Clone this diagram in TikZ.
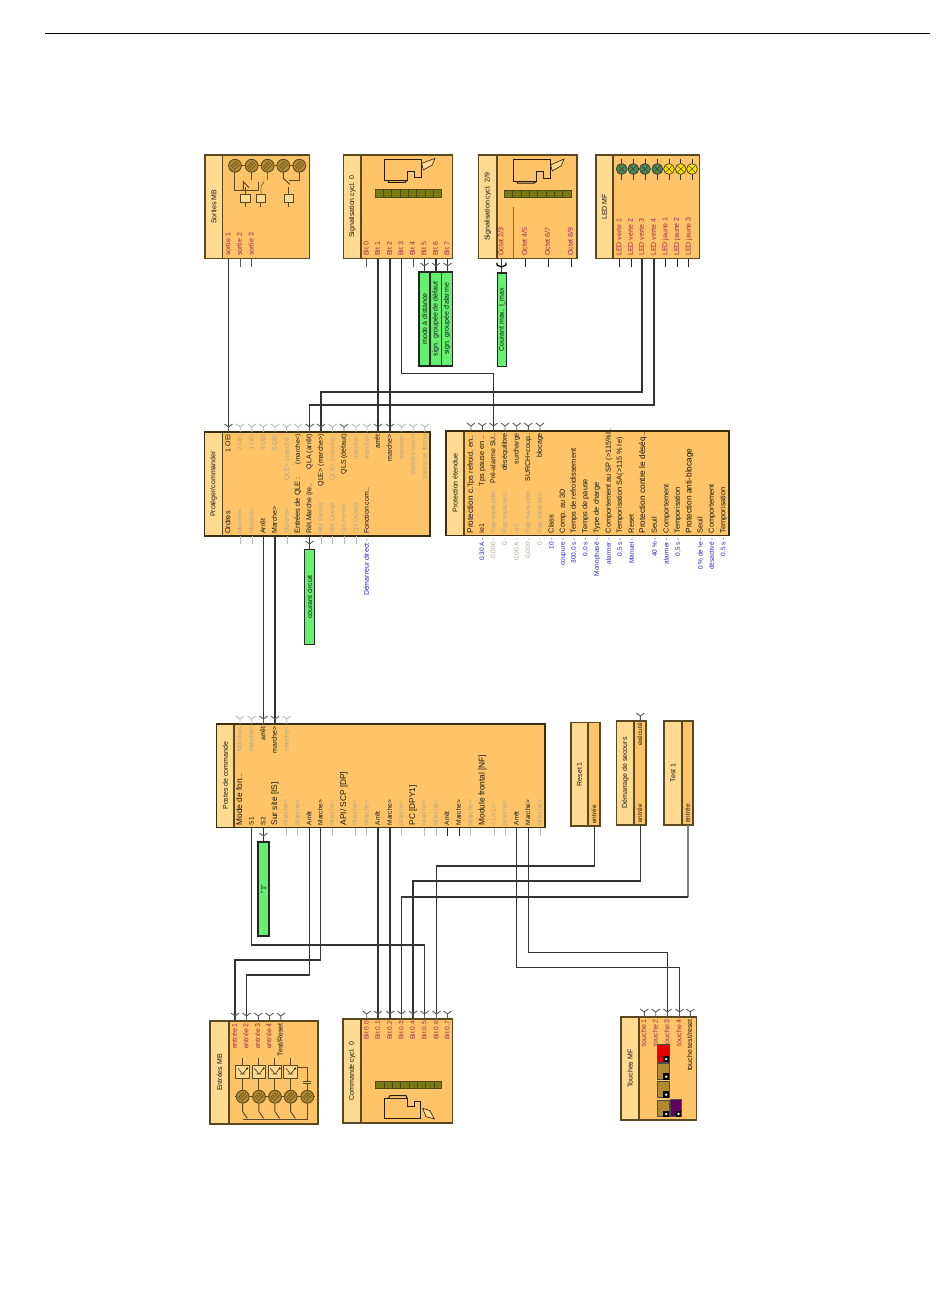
\documentclass[tikz,border=0pt]{standalone}
\usepackage{fontspec}
\setmainfont{Liberation Sans}
\definecolor{bodyc}{HTML}{FFC468}
\definecolor{headc}{HTML}{FFDA90}
\definecolor{edgec}{HTML}{5A4820}
\definecolor{darkedge}{HTML}{3A2E10}
\definecolor{greenc}{HTML}{66F070}
\definecolor{wirec}{HTML}{333333}
\definecolor{mr}{HTML}{A0204C}
\definecolor{bl}{HTML}{2222C4}
\definecolor{gr}{HTML}{B0A488}
\definecolor{bk}{HTML}{151515}
\definecolor{termc}{HTML}{B08A30}
\definecolor{oliv}{HTML}{7A7A10}
\definecolor{olivd}{HTML}{4A4A10}
\definecolor{ledg}{HTML}{4A8A50}
\newcommand\smf{\fontsize{6.5}{7}\selectfont}
\newcommand\lf{\fontsize{7}{8}\selectfont}
\newcommand\mf{\fontsize{7.4}{8}\selectfont}
\newcommand\hf{\fontsize{8.3}{9}\selectfont}
\newcounter{lb}
% anchor, colour, x, y, text
\newcommand\labs[5]{\stepcounter{lb}\node[lbl,anchor=#1,text=#2,font=\smf] (lab\thelb) at (#3,#4) {#5};}
\newcommand\lab[5]{\stepcounter{lb}\node[lbl,anchor=#1,text=#2,font=\lf] (lab\thelb) at (#3,#4) {#5};}
\newcommand\labm[5]{\stepcounter{lb}\node[lbl,anchor=#1,text=#2,font=\mf] (lab\thelb) at (#3,#4) {#5};}
\newcommand\labh[5]{\stepcounter{lb}\node[lblh,anchor=#1,text=#2,font=\hf] (lab\thelb) at (#3,#4) {#5};}
\newcommand\blk[7]{%
 \pgfmathsetmacro\bw{#4-#2}\pgfmathsetmacro\bh{#6-#5}\pgfmathsetmacro\hw{#3-#2}
 \node[bodybox,minimum width=\bw pt,minimum height=\bh pt] (#1) at (#2,#5) {};
 \node[headbox,minimum width=\hw pt,minimum height=\bh pt] (#1-h) at (#2,#5) {};
 \node[blktitle] (#1-t) at (#1-h.center) {#7};
}
\newcommand\grn[6]{%
 \pgfmathsetmacro\bw{#3-#2}\pgfmathsetmacro\bh{#5-#4}
 \node[greenbox,minimum width=\bw pt,minimum height=\bh pt] (#1) at (#2,#4) {};
 \node[blktitle] (#1-t) at (#1.center) {#6};
}
\newcommand\fork[3]{\draw[#3,line width=.9pt] (#1,#2)--++(0,-5) ++(-4,-3)--++(4,3)--++(4,-3);}
\newcommand\vmark[3]{\draw[#3,line width=.9pt] (#1-4,#2-3)--(#1,#2)--(#1+4,#2-3);}
\newcommand\stub[3]{\draw[#3,line width=.9pt] (#1,#2)--++(0,8);}
\newcommand\term[2]{\filldraw[fill=termc,draw=edgec,line width=.9pt] (#1,#2) circle (6.4);
 \draw[edgec,line width=.5pt] (#1-3.5,#2+3)--(#1+3,#2-3.5) (#1-4.5,#2+1)--(#1+1,#2-4.5) (#1-1.5,#2+4.5)--(#1+4.5,#2-1.5);}
\tikzset{
 lbl/.style={rotate=90,inner sep=0pt,text height=5pt,text depth=1.4pt},
 lblh/.style={rotate=90,inner sep=0pt,text height=6pt,text depth=1.6pt},
 bodybox/.style={draw=edgec,line width=1.2pt,fill=bodyc,anchor=north west,inner sep=0pt,outer sep=0pt},
 headbox/.style={draw=edgec,line width=1.2pt,fill=headc,anchor=north west,inner sep=0pt,outer sep=0pt},
 greenbox/.style={draw=black!85,line width=1.2pt,fill=greenc,anchor=north west,inner sep=0pt,outer sep=0pt},
 blktitle/.style={rotate=90,inner sep=0pt,font=\lf,text=bk},
 wire/.style={wirec,line width=1.3pt},
 lightp/.style={gray!55},
 midp/.style={black!65},
 darkp/.style={black!85},
 icon/.style={edgec,line width=1pt},
 icona/.style={black!80!brown,line width=1pt},
}
\begin{document}
\begin{tikzpicture}[x=1pt,y=-1pt]
\useasboundingbox (0,0) rectangle (950,1299);
\draw[black,line width=.8pt] (45,33)--(930,33);

% ---------- blocks
\blk{sortiesMB}{205}{222.5}{309.5}{155}{258.5}{Sorties MB}
\blk{sig0}{343.5}{361}{452.5}{155}{258.5}{Signalisation cycl. 0}
\blk{sig29}{478.5}{497}{577}{155}{258.5}{Signalisation cycl. 2/9}
\blk{ledmf}{596}{613}{699.5}{155}{258.5}{LED MF}
\blk{prot}{204.5}{222.5}{430}{432}{536}{Protéger/commander}
\blk{ext}{446}{464}{729}{431}{535.5}{Protection étendue}
\blk{postes}{216.5}{234}{545}{724}{827.5}{Postes de commande}
\blk{reset}{571}{588}{600}{722.5}{826}{Reset 1}
\blk{dem}{616.5}{634}{646}{721}{825}{Démarrage de secours}
\blk{test}{664}{682}{693}{721}{825}{Test 1}
\blk{entMB}{210}{229}{318}{1021}{1124}{Entrées MB}
\blk{cmd}{343}{361}{452.5}{1019}{1123}{Commande cycl. 0}
\blk{tou}{621}{639}{696.5}{1017}{1120}{Touches MF}
\draw[darkedge,line width=1.4pt] (prot.north west) rectangle (prot.south east) (ext.north west) rectangle (ext.south east) (postes.north west) rectangle (postes.south east);

% ---------- green value blocks
\grn{gmode}{419}{430}{272}{366}{mode à distance}
\grn{gdef}{430}{441.5}{272}{366}{sign. groupée de défaut}
\grn{galm}{441.5}{452.5}{272}{366}{sign. groupée d'alarme}
\grn{gimax}{497.5}{506.5}{273}{366.5}{Courant max. I\_max}
\grn{gcirc}{304.5}{314.5}{549.5}{644.5}{courant circuit}
\grn{gun}{258}{269}{842}{936}{"1"}

% ---------- ports (named ends of the connectors)
\coordinate (s1) at (228.5,258.5);
\coordinate (b1) at (378,258.5); \coordinate (b2) at (390,258.5); \coordinate (b3) at (401.5,258.5);
\coordinate (b5) at (424.5,258.5); \coordinate (b6) at (436,258.5); \coordinate (b7) at (447.5,258.5);
\coordinate (oct2) at (501.5,258.5);
\coordinate (v3) at (642,258.5); \coordinate (v4) at (654,258.5);
\coordinate (poei) at (228.5,432); \coordinate (pqla) at (309.5,432); \coordinate (pqle) at (321,432);
\coordinate (parr) at (378,432); \coordinate (pmar) at (390,432);
\coordinate (pbarr) at (263.5,536); \coordinate (pbmar) at (275,536); \coordinate (pbret) at (309.5,536);
\coordinate (epre) at (493.5,431);
\coordinate (ptarr) at (263.5,724); \coordinate (ptmar) at (275,724);
\coordinate (ps1) at (251.7,827.5); \coordinate (ps2) at (263.5,827.5);
\coordinate (pa1) at (309.5,827.5); \coordinate (pm1) at (320.8,827.5);
\coordinate (pa2) at (378,827.5); \coordinate (pm2) at (390,827.5);
\coordinate (pa3) at (516.7,827.5); \coordinate (pm3) at (528.3,827.5);
\coordinate (rin) at (594.5,826); \coordinate (din) at (640.3,825); \coordinate (tin) at (688,825);
\coordinate (e1) at (235,1021); \coordinate (e2) at (246.5,1021);
\coordinate (c1) at (378,1019); \coordinate (c2) at (390,1019); \coordinate (c3) at (401.5,1019);
\coordinate (c4) at (413,1019); \coordinate (c5) at (424.5,1019); \coordinate (c6) at (436.5,1019);
\coordinate (t3) at (667.5,1017); \coordinate (t4) at (679.5,1017);

% ---------- connectors
\draw[wire] (s1)--(poei);
\draw[wire] (b1)--(parr);
\draw[wire] (b2)--(pmar);
\draw[wire] (b3)--(b3|-0,373.5)--(epre|-0,373.5)--(epre);
\draw[wire] (v3)--(v3|-0,392)--(pqle|-0,392)--(pqle);
\draw[wire] (v4)--(v4|-0,405)--(pqla|-0,405)--(pqla);
\draw[wire] (pbarr)--(ptarr);
\draw[wire] (pbmar)--(ptmar);
\draw[wire] (pa2)--(c1);
\draw[wire] (pm2)--(c2);
\draw[wire] (ps1)--(ps1|-0,945)--(c5|-0,945)--(c5);
\draw[wire] (pa1)--(pa1|-0,975)--(e2|-0,975)--(e2);
\draw[wire] (pm1)--(pm1|-0,960)--(e1|-0,960)--(e1);
\draw[wire] (pa3)--(pa3|-0,967.5)--(t4|-0,967.5)--(t4);
\draw[wire] (pm3)--(pm3|-0,952.5)--(t3|-0,952.5)--(t3);
\draw[wire] (rin)--(rin|-0,866)--(c6|-0,866)--(c6);
\draw[wire] (din)--(din|-0,881)--(c4|-0,881)--(c4);
\draw[gray,line width=1.3pt] (tin)--(tin|-0,897);
\draw[wire] (tin|-0,897)--(c3|-0,897)--(c3);
\draw[wire] (b5)--(gmode.north-|b5);
\draw[wire] (b6)--(gdef.north-|b6);
\draw[wire] (b7)--(galm.north-|b7);
\draw[wire,line width=1.5pt] (oct2)--(gimax.north-|oct2);
\draw[wire] (pbret)--(gcirc.north-|pbret);
\draw[wire] (ps2)--(gun.north-|ps2);
\vmark{424.5}{266}{midp}\vmark{436}{266}{midp}\vmark{447.5}{266}{midp}
\vmark{309.5}{544}{midp}\vmark{263.5}{836}{midp}
\draw[black,line width=1.3pt] (497,262.5)--(497,265)--(501.5,267)--(506,265)--(506,262.5);

% ---------- forks and stubs
\foreach \x in {240.2,251.8,263.4,275,286.6,298} {\fork{\x}{432}{lightp}}
\foreach \x in {332.5,356,367,401.7,413.2,424.8} {\fork{\x}{432}{lightp}}
\foreach \x in {228.5,309.5,321,344,378,390} {\fork{\x}{432}{midp}}
\foreach \x in {471,482.4,493.5,505,516.7,528.3,540} {\fork{\x}{431}{midp}}
\foreach \x in {240,251.7,286.7} {\fork{\x}{724}{lightp}}
\foreach \x in {263.5,275} {\fork{\x}{724}{midp}}
\fork{640.3}{721}{midp}
\foreach \x in {235,246.5,258.3,269.5,280.8} {\fork{\x}{1021}{midp}}
\foreach \x in {366.7,378,390,401.5,413,424.5,436.5,447.5} {\fork{\x}{1019}{midp}}
\foreach \x in {644.3,655.7,667.5,679.5,690.3} {\fork{\x}{1017}{midp}}
\foreach \x in {240,251.7} {\stub{\x}{258.5}{midp}}
\foreach \x in {366.7,413} {\stub{\x}{258.5}{midp}}
\foreach \x in {525,548,571,619.5,631,665.5,677,688.7} {\stub{\x}{258.5}{darkp}}
\foreach \x in {240,252,287,321,332.5,344,356} {\stub{\x}{536}{lightp}}
\foreach \x in {286,297.7,332.3,355,366.7,401.3,424.3,436,470.7,494,505,540} {\stub{\x}{827.5}{lightp}}
\foreach \x in {447.3,459} {\stub{\x}{827.5}{darkp}}

% ---------- labels of Sorties, Signalisation, LED
\foreach \x/\t in {228.5/sortie 1,240/sortie 2,251.7/sortie 3} {\lab{west}{mr}{\x}{256}{\t}}
\foreach \x/\t in {366.7/Bit 0,378/Bit 1,390/Bit 2,401.5/Bit 3,413/Bit 4,424.5/Bit 5,436/Bit 6,447.5/Bit 7} {\lab{west}{mr}{\x}{256}{\t}}
\foreach \x/\t in {501.5/{Octet 2/3},525/{Octet 4/5},548/{Octet 6/7},571/{Octet 8/9}} {\lab{west}{mr}{\x}{256}{\t}}
\foreach \x/\t in {619.5/LED verte 1,631/LED verte 2,642/LED verte 3,654/LED verte 4,665.5/LED jaune 1,677/LED jaune 2,688.7/LED jaune 3} {\lab{west}{mr}{\x}{256}{\t}}

% ---------- labels of Protéger/commander
\labm{west}{bk}{228.5}{534}{Ordres}
\foreach \x/\t in {240/Marche<,252/Marche<,287/Marche>,321/Rét Fermé,332.5/Rét Ouvert,344/Cpl Fermé,356/Cpl Ouvert} {\labs{west}{gr}{\x}{534}{\t}}
\foreach \x/\t in {263.5/Arrêt,275/Marche>} {\lab{west}{bk}{\x}{534}{\t}}
\labm{west}{bk}{298}{534}{Entrées de QLE :}
\lab{west}{bk}{309.5}{534}{Rét.Marche (re..}
\lab{west}{bk}{367}{534}{Fonction com..}
\lab{east}{bl}{367}{539}{Démarreur direct -}
\foreach \x/\t in {228.5/1 OEI,344/QLS (défaut),378/arrêt,390/marche>} {\lab{east}{bk}{\x}{434}{\t}}
\foreach \x/\t in {309.5/QLA (arrêt),321/QLE> (marche>)} {\lab{east}{bk}{\x}{434}{\t}}
\labs{east}{bk}{298}{434}{(marche<)}
\foreach \x/\t in {240/2 OEI,252/3 OEI,263.5/4 OEI,275/5 OEI,287/QLE< (marche..,332.5/QLE> (marche..,356/marche<,367/marche<,402/marche>,413/Vanne s'ouvre,425/Vanne se ferme} {\labs{east}{gr}{\x}{434}{\t}}

% ---------- labels of Protection étendue
\labh{west}{bk}{471}{533.5}{Protection c.}
\labm{east}{bk}{471}{435}{Tps refroid. en..}
\labm{east}{bk}{482.4}{435}{Tps pause en ..}
\lab{east}{bk}{493.5}{433}{Pré-alarme SU..}
\foreach \x/\t in {505/déséquilibre,516.7/surcharge,528.3/SURCH+coup..,540/blocage} {\lab{east}{bk}{\x}{433}{\t}}
\lab{west}{bk}{482.4}{533.5}{Ie1}
\foreach \x/\t in {493.5/Rap.trans.prim.,505/Rap.trans.sec..,516.7/Ie2,528.3/Rap.trans.prim.,540/Rap.trans.sec..} {\labs{west}{gr}{\x}{533.5}{\t}}
\foreach \x/\t in {551.7/Class,563/Comp. au 3D,574/Temps de refroidissement,585.5/Temps de pause,597/Type de charge,632/Reset,655/Seuil,666.7/Comportement,678/Temporisation,700.7/Seuil,712/Comportement,723.5/Temporisation} {\labm{west}{bk}{\x}{533.5}{\t}}
\labm{west}{bk}{620}{533.5}{Temporisation SA(>115 \% Ie)}
\labm{west}{bk}{609}{533.5}{Comportement au SP (>115\%I..}
\labh{west}{bk}{643}{533.5}{Protection contre le déséq..}
\labh{west}{bk}{689.5}{533.5}{Protection anti-blocage}
\foreach \x/\t in {482.4/{0,30 A -},551.7/10 -,563/coupure -,574/{300,0 s -},585.5/{0,0 s -},597/Monophasé -,609/alarmer -,620/{0,5 s -},632/Manuel -,655/40 \% -,666.7/alarmer -,678/{0,5 s -},700.7/0 \% de Ie -,712/désactivé -,723.5/{0,5 s -}} {\labs{east}{bl}{\x}{538}{\t}}
\foreach \x/\t in {493.5/{0,000 -},505/0 -,516.7/{0,00 A -},528.3/{0,000 -},540/0 -} {\labs{east}{gr}{\x}{538}{\t}}

% ---------- labels of Postes de commande
\foreach \x/\t in {240/Marche<,251.7/marche<,286.7/marche<} {\labs{east}{gr}{\x}{726}{\t}}
\foreach \x/\t in {263.5/arrêt,275/marche>} {\lab{east}{bk}{\x}{726}{\t}}
\foreach \x/\t in {240/Mode de fon..,275/Sur site [IS],344/{API/ SCP [DP]},413/PC [DPY1],482.3/Module frontal [NF]} {\labh{west}{bk}{\x}{825.5}{\t}}
\foreach \x/\t in {251.7/S1,263.5/S2,309.5/Arrêt,320.8/Marche>,378/Arrêt,390/Marche>,447.3/Arrêt,459/Marche>,516.7/Arrêt,528.3/Marche>} {\labs{west}{bk}{\x}{825.5}{\t}}
\foreach \x/\t in {286/Marche<,297.7/Marche<,332.3/Marche<,355/Marche<,366.7/Marche<,401.3/Marche<,424.3/Marche<,436/Marche<,470.7/Marche<,494/{<1/<1>},505/Marche<,540/Marche<} {\labs{west}{gr}{\x}{825.5}{\t}}
\labs{west}{bk}{594.5}{824}{entrée}
\labs{west}{bk}{640.3}{823}{entrée}
\labs{west}{bk}{688}{823}{entrée}
\labs{east}{bk}{640.3}{723}{exécuté}

% ---------- labels of the bottom row
\foreach \x/\t in {235/entrée 1,246.5/entrée 2,258.3/entrée 3,269.5/entrée 4} {\lab{east}{mr}{\x}{1023}{\t}}
\lab{east}{bk}{280.8}{1023}{Test/Reset}
\foreach \x/\n in {366.7/0,378/1,390/2,401.5/3,413/4,424.5/5,436.5/6,447.5/7} {\labs{east}{mr}{\x}{1021}{Bit 0.\n}}
\foreach \x/\t in {644.3/touche 1,655.7/touche 2,667.5/touche 3,679.5/touche 4} {\lab{east}{mr}{\x}{1019}{\t}}
\lab{east}{bk}{690.3}{1019}{touche test/reset}

% ---------- icon Sorties MB
\begin{scope}[shift={(195,145)},x=.3333pt,y=-.3333pt]
 \draw[icon] (100,62)--(330,62);
 \draw[icon] (120,80)--(120,135)--(190,135)--(190,110);
 \draw[icon] (170,80)--(170,105);
 \draw[icon] (145,135)--(145,110)--(162,128);
 \draw[oliv,line width=.9pt] (218,80)--(218,105);
 \draw[oliv,line width=.9pt] (198,148)--(198,125)--(207,110);
 \draw[icon] (265,80)--(265,100)--(285,118);
 \draw[icon] (313,80)--(313,106)--(282,106);
 \draw[icon] (282,125)--(282,148);
 \draw[icon] (152,125)--(152,148) (152,172)--(152,187) (198,172)--(198,187) (282,172)--(282,187);
 \foreach \x in {138,185,268} {\filldraw[icon,fill=headc] (\x,148) rectangle (\x+28,172);}
\end{scope}
\foreach \x in {235,251.7,267.7,283.3,299.3} {\term{\x}{165.7}}

% ---------- icon Signalisation cycl. 0
\begin{scope}[shift={(195,145)},x=.3333pt,y=-.3333pt]
 \draw[icona] (568,42)--(680,42)--(680,97)--(660,97)--(660,78)--(638,78)--(638,105)--(568,105)--cycle;
 \draw[icona] (580,105)--(580,112)--(630,112)--(638,105);
 \filldraw[icona,fill=headc,line width=.6pt] (680,55)--(720,40)--(712,60)--(685,75)--cycle;
 \filldraw[olivd,fill=oliv,line width=.8pt] (540,133) rectangle (740,157);
 \foreach \i in {565,590,615,640,665,690,715} {\draw[olivd,line width=.6pt] (\i,133)--(\i,157);}
\end{scope}

% ---------- icon Signalisation cycl. 2/9
\begin{scope}[shift={(465,145)},x=.3333pt,y=-.3333pt]
 \draw[icona] (145,42)--(257,42)--(257,100)--(235,100)--(235,80)--(215,80)--(215,108)--(145,108)--cycle;
 \draw[icona] (157,108)--(157,114)--(208,114)--(215,108);
 \filldraw[icona,fill=headc,line width=.6pt] (257,60)--(297,42)--(289,62)--(262,78)--cycle;
 \filldraw[olivd,fill=oliv,line width=.8pt] (118,135) rectangle (318,158);
 \foreach \i in {143,168,193,218,243,268,293} {\draw[olivd,line width=.6pt] (\i,135)--(\i,158);}
 \draw[oliv,line width=1pt] (146,185)--(146,340);
\end{scope}

% ---------- icon LED MF
\foreach \x in {621.7,633.3,645,657.3} {
 \draw[black!80,line width=.8pt] (\x,159)--(\x,180);
 \filldraw[fill=ledg,draw=black!75,line width=.8pt] (\x,169) circle (5.4);
 \draw[black!75,line width=.6pt] (\x-3.6,165.4)--(\x+3.6,172.6) (\x-3.6,172.6)--(\x+3.6,165.4);}
\foreach \x in {669,680.7,692} {
 \draw[black!80,line width=.8pt] (\x,159)--(\x,180);
 \filldraw[fill=yellow!85!orange,draw=edgec,line width=.8pt] (\x,169) circle (5.4);
 \draw[edgec,line width=.6pt] (\x-3.6,165.4)--(\x+3.6,172.6) (\x-3.6,172.6)--(\x+3.6,165.4);}

% ---------- icon Entrées MB
\begin{scope}[shift={(200,1000)},x=.3333pt,y=-.3333pt]
 \foreach \x in {128,177,225,272} {
  \draw[icon] (\x,175)--(\x,197) (\x,235)--(\x,270);
  \filldraw[icon,fill=headc] (\x-20,197) rectangle (\x+20,235);
  \draw[icon,line width=.7pt] (\x-14,205)--(\x,222)--(\x+14,205) (\x-8,222)--(\x+8,222);
  \fill[black] (\x+14,205) circle (3);
 }
 \foreach \x in {128,177,225,272} {\draw[icon] (\x,310)--(\x,335)--(\x+14,355);}
 \draw[icon] (130,358)--(322,358)--(322,310);
 \draw[icon] (292,203)--(322,203)--(322,245) (322,252)--(322,270);
 \draw[olivd,line width=1.1pt] (310,245)--(334,245) (310,251)--(334,251);
 \draw[icon] (105,290)--(345,290);
\end{scope}
\foreach \x in {242.7,259,275,290.7,307.3} {\term{\x}{1096.7}}

% ---------- icon Commande cycl. 0
\begin{scope}[shift={(200,1000)},x=.3333pt,y=-.3333pt]
 \filldraw[olivd,fill=oliv,line width=.8pt] (527,243) rectangle (725,265);
 \foreach \i in {552,577,602,627,652,677,702} {\draw[olivd,line width=.6pt] (\i,243)--(\i,265);}
 \draw[icona] (553,295)--(622,295)--(622,320)--(645,320)--(645,303)--(663,303)--(663,355)--(553,355)--cycle;
 \draw[icona] (565,295)--(570,287)--(618,287)--(622,295);
 \filldraw[icona,fill=headc,line width=.6pt] (668,325)--(690,332)--(703,357)--(678,350)--cycle;
\end{scope}

% ---------- icon Touches MF
\begin{scope}[shift={(610,1000)},x=.3333pt,y=-.3333pt]
 \filldraw[black!70,fill=red!90!black,line width=.6pt] (142,132) rectangle (177,187);
 \filldraw[black!70,fill=termc,line width=.6pt] (142,190) rectangle (177,238);
 \filldraw[black!70,fill=termc,line width=.6pt] (142,243) rectangle (177,293);
 \filldraw[black!70,fill=termc,line width=.6pt] (142,300) rectangle (177,350);
 \filldraw[black!70,fill=violet!75!black,line width=.6pt] (180,298) rectangle (213,350);
 \foreach \x/\y in {160/167,160/220,160/274,160/332,197/332} {
  \fill[black] (\x,\y) rectangle (\x+17,\y+20);
  \fill[white] (\x+8.5,\y+10) circle (4);
 }
\end{scope}
\end{tikzpicture}
\end{document}
